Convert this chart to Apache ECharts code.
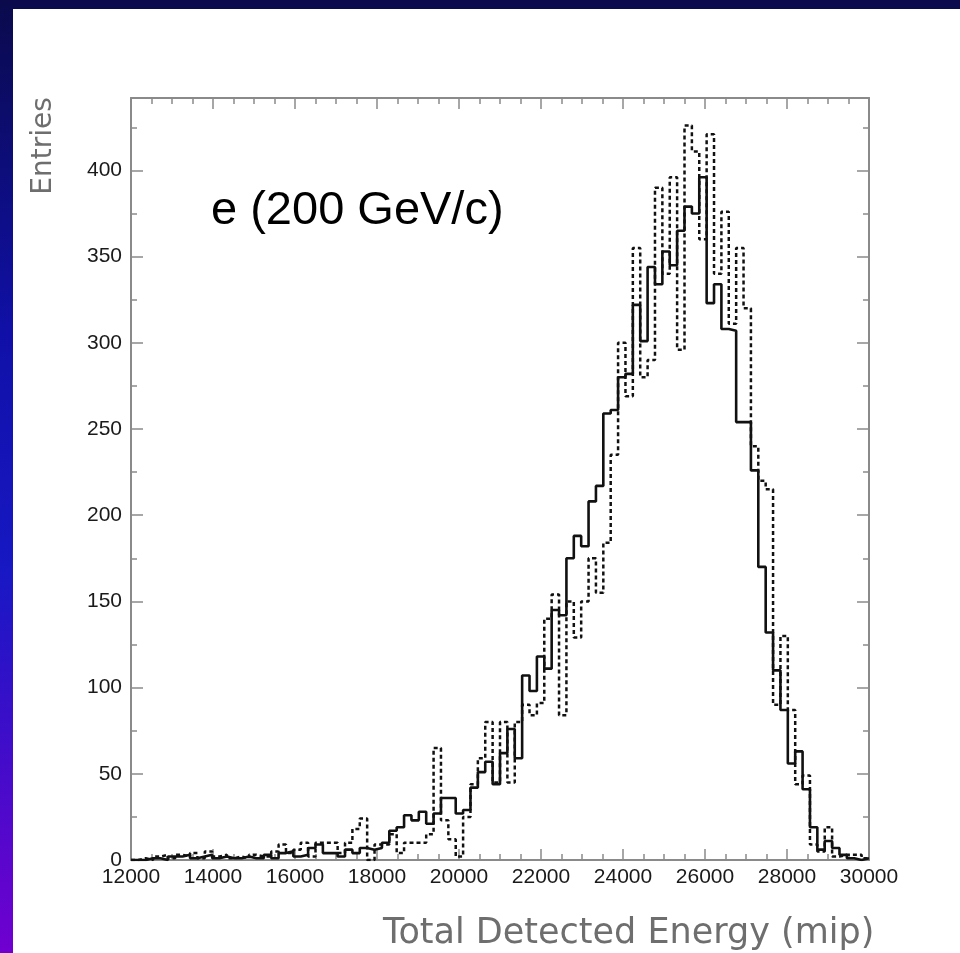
<!DOCTYPE html>
<html><head><meta charset="utf-8">
<script src="https://cdn.jsdelivr.net/npm/echarts@6/dist/echarts.min.js"></script>
<style>html,body{margin:0;padding:0;background:#fff}#c{width:960px;height:953px}</style>
</head><body><div id="c"></div>
<script>
// Histogram binning
const binStart = 12000;
const binWidth = 180;
// Solid histogram (100 bins, 12000..30000)
const solidCounts = [
  0,0,1,1,0,2,2,3,1,2,
  3,1,2,1,1,2,1,1,3,1,
  4,5,2,3,7,9,4,4,2,6,
  4,7,6,7,10,17,19,26,23,28,
  21,27,36,36,27,29,42,51,57,44,
  62,76,59,107,98,118,111,145,142,175,
  188,182,208,217,259,261,280,282,322,301,
  344,334,353,345,365,379,375,396,323,334,
  308,307,254,254,226,170,132,110,87,56,
  63,41,19,6,11,7,3,1,0,1
];
// Dotted histogram (100 bins)
const dottedCounts = [
  0,1,0,2,3,1,3,2,4,1,
  5,2,3,1,2,1,3,2,2,5,
  9,4,6,10,2,10,10,10,4,10,
  18,24,0,9,9,15,4,10,10,10,
  15,65,23,12,2,25,44,59,80,45,
  80,45,80,90,84,91,140,154,84,150,
  129,150,175,155,184,235,300,269,355,280,
  290,390,340,396,296,426,411,360,421,340,
  376,311,355,320,240,220,215,90,130,87,
  44,49,9,5,19,2,3,3,3,1
];
const xTickValues = [12000,14000,16000,18000,20000,22000,24000,26000,28000,30000];
const yTickValues = [0,50,100,150,200,250,300,350,400];
const plotText = 'e (200 GeV/c)';
const xTitle = 'Total Detected Energy (mip)';
const yTitle = 'Entries';

function histPoints(vals){
  const pts = vals.map((v,i)=>[binStart + i*binWidth, v]);
  pts.push([binStart + vals.length*binWidth, vals[vals.length-1]]);
  return pts;
}

const chart = echarts.init(document.getElementById('c'), null, {renderer:'canvas'});
const axisGray = '#8a8a8a';
const labelFont = {color:'#1a1a1a', fontSize:21, fontFamily:'Liberation Sans, Arial, sans-serif'};

const xBase = {
  type:'value', min:12000, max:30000, interval:2000,
  splitLine:{show:false},
  axisLine:{show:true, onZero:false, lineStyle:{color:axisGray, width:2}},
  axisTick:{show:true, inside:true, length:11, lineStyle:{color:axisGray, width:1.5}},
  minorTick:{show:true, splitNumber:4, length:6, lineStyle:{color:axisGray, width:1.5}},
  minorSplitLine:{show:false}
};
const yBase = {
  type:'value', min:0, max:442, interval:50,
  splitLine:{show:false},
  axisLine:{show:true, onZero:false, lineStyle:{color:axisGray, width:2}},
  axisTick:{show:true, inside:true, length:12, lineStyle:{color:axisGray, width:1.5}},
  minorTick:{show:true, splitNumber:2, length:6, lineStyle:{color:axisGray, width:1.5}},
  minorSplitLine:{show:false}
};

const option = {
  animation:false,
  backgroundColor:'#ffffff',
  grid:{left:131, right:91, top:98, bottom:93, containLabel:false},
  xAxis:[
    Object.assign({}, xBase, {position:'bottom',
      axisLabel:Object.assign({show:true, margin:7,
        formatter:(v)=> xTickValues.includes(v) ? String(v) : ''}, labelFont)}),
    Object.assign({}, xBase, {position:'top', axisLabel:{show:false}})
  ],
  yAxis:[
    Object.assign({}, yBase, {position:'left',
      axisLabel:Object.assign({show:true, margin:9, showMaxLabel:false,
        formatter:(v)=> yTickValues.includes(v) ? String(v) : ''}, labelFont)}),
    Object.assign({}, yBase, {position:'right', axisLabel:{show:false}})
  ],
  graphic:[
    {type:'rect', z:-100, silent:true, shape:{x:0,y:0,width:960,height:953},
      style:{fill:new echarts.graphic.LinearGradient(0,0,0,1,[
        {offset:0,color:'#0a0a4c'},{offset:0.35,color:'#1010a8'},
        {offset:0.6,color:'#1818c4'},{offset:1,color:'#7000d0'}])}},
    {type:'rect', z:-99, silent:true, shape:{x:13,y:9,width:947,height:944}, style:{fill:'#ffffff'}},
    {type:'text', z:10, silent:true, left:211, top:188,
      style:{text:plotText, fill:'#000', font:'47px "Liberation Sans", Arial, sans-serif'}},
    {type:'text', z:10, silent:true, left:383, top:916,
      style:{text:xTitle, fill:'#6e6e6e', font:'35px "DejaVu Sans", sans-serif'}},
    {type:'text', z:10, silent:true, x:44, y:146, rotation:Math.PI/2,
      style:{text:yTitle, fill:'#6e6e6e', font:'28px "DejaVu Sans", sans-serif', align:'center', verticalAlign:'middle'}}
  ],
  series:[
    {type:'line', name:'dotted', step:'end', xAxisIndex:0, yAxisIndex:0, showSymbol:false, symbol:'none',
      data:histPoints(dottedCounts), z:3,
      lineStyle:{color:'#111', width:2.5, type:[4,3]}},
    {type:'line', name:'solid', step:'end', xAxisIndex:0, yAxisIndex:0, showSymbol:false, symbol:'none',
      data:histPoints(solidCounts), z:4,
      lineStyle:{color:'#111', width:2.6, type:'solid'}}
  ]
};
chart.setOption(option);
</script>
</body></html>
